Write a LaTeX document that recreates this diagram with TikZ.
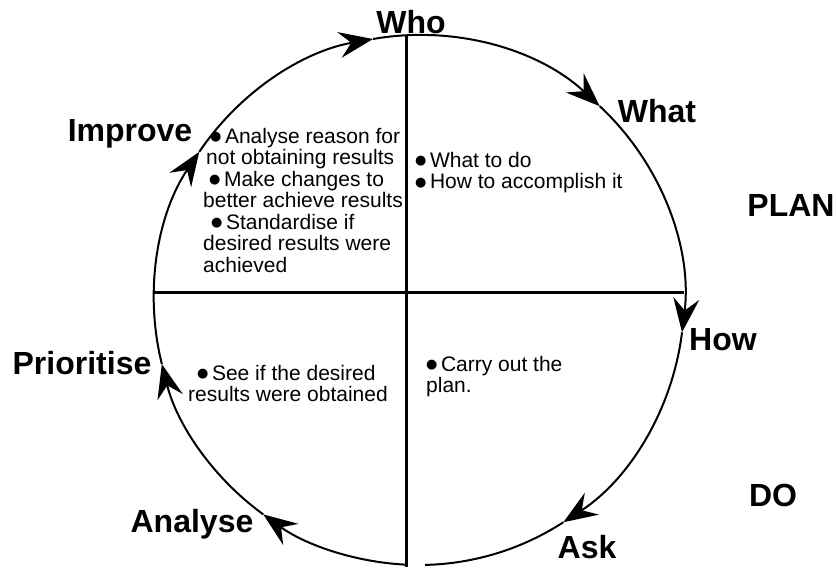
\documentclass[tikz,border=0pt]{standalone}
\usepackage{fontspec}
\setmainfont{Liberation Sans}
\newfontfamily\symfont{DejaVu Sans}
\usetikzlibrary{positioning, arrows.meta}

\newcommand{\dotmark}{\raisebox{2.5pt}{\symfont\fontsize{13}{13}\selectfont ●}}

\begin{document}
\begin{tikzpicture}[
    x=1pt, y=1pt,
    ring/.style={line width=2pt},
    ringarrow/.style={line width=2pt, -{Stealth[length=34pt, width=26pt, inset=12pt]}},
    axis/.style={line width=3pt},
    stage/.style={font=\fontsize{32}{32}\selectfont\bfseries, inner sep=0pt},
    note/.style={font=\fontsize{21}{21.5}\selectfont, align=left, anchor=north west, inner sep=0pt}
]
\useasboundingbox (0,0) rectangle (837,567);

% centre of the cycle and ends of the two axes
\coordinate (c) at (419,267);
\coordinate (top) at (406,532);
\coordinate (bot) at (406,0);
\coordinate (left) at (154,274);
\coordinate (right) at (684,274);

\draw[axis] (top) -- (bot);
\draw[axis] (left) -- (right);

% the cycle, clockwise
\draw[ringarrow] (c) ++(146:265) arc[start angle=146, end angle=100, radius=265];
\draw[ringarrow] (c) ++(100:265) arc[start angle=100, end angle=47, radius=265];
\draw[ringarrow] (c) ++(47:265) arc[start angle=47, end angle=-7, radius=265];
\draw[ringarrow] (c) ++(-7:265) arc[start angle=-7, end angle=-57, radius=265];
\draw[ring] (c) ++(-57:265) arc[start angle=-57, end angle=-88.7, radius=265];
\draw[ringarrow] (c) ++(-92.8:265) arc[start angle=-92.8, end angle=-126, radius=265];
\draw[ringarrow] (c) ++(-126:265) arc[start angle=-126, end angle=-166, radius=265];
\draw[ringarrow] (c) ++(194:265) arc[start angle=194, end angle=146, radius=265];

% stage labels
\node[stage] (who) at (411,545) {Who};
\node[stage] (what) at (657,456) {What};
\node[stage] (how) at (723,227) {How};
\node[stage] (ask) at (587,20) {Ask};
\node[stage] (analyse) at (192,43) {Analyse};
\node[stage] (prioritise) at (82,204) {Prioritise};
\node[stage] (improve) at (130,433) {Improve};
\node[stage] (plan) at (791,362) {PLAN};
\node[stage] (do) at (773,72) {DO};

% notes in the quadrants
\node[note] (act) at (203,439) {\hspace*{7pt}\dotmark\,Analyse reason for\\ \hspace*{3pt}not obtaining results\\ \hspace*{6pt}\dotmark\,Make changes to\\ better achieve results\\ \hspace*{8pt}\dotmark\,Standardise if\\ desired results were\\ achieved};
\node[note] (planning) at (415,415) {\dotmark\,What to do\\ \dotmark\,How to accomplish it};
\node[note] (doing) at (426,211) {\dotmark\,Carry out the\\ plan.};
\node[note] (check) at (188,202) {\hspace*{9pt}\dotmark\,See if the desired\\ results were obtained};
\end{tikzpicture}
\end{document}
